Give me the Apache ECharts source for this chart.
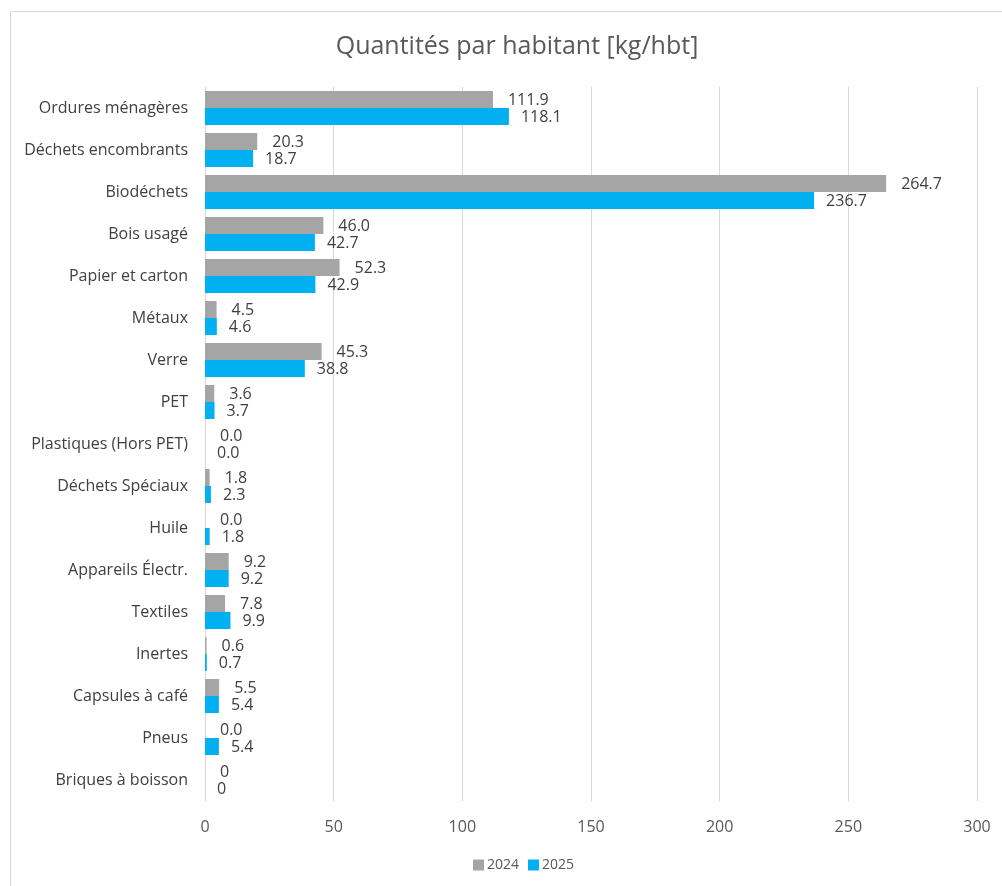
<!DOCTYPE html>
<html>
<head>
<meta charset="utf-8">
<script src="https://cdn.jsdelivr.net/npm/echarts@6/dist/echarts.min.js"></script>
<style>
html,body{margin:0;padding:0;background:#fff;overflow:hidden;}
#frame{position:absolute;left:10px;top:11px;width:1010px;height:900px;border:1px solid #d9d9d9;box-sizing:border-box;}
#chart{position:absolute;left:0;top:0;width:1002px;height:886px;}
</style>
</head>
<body>
<div id="frame"></div>
<div id="chart"></div>
<script>
const categories = ['Ordures ménagères','Déchets encombrants','Biodéchets','Bois usagé','Papier et carton','Métaux','Verre','PET','Plastiques (Hors PET)','Déchets Spéciaux','Huile','Appareils Électr.','Textiles','Inertes','Capsules à café','Pneus','Briques à boisson'];
const values2024 = [111.9,20.3,264.7,46.0,52.3,4.5,45.3,3.6,0.0,1.8,0.0,9.2,7.8,0.6,5.5,0.0,0];
const values2025 = [118.1,18.7,236.7,42.7,42.9,4.6,38.8,3.7,0.0,2.3,1.8,9.2,9.9,0.7,5.4,5.4,0];
const wholeNumberCategories = ['Briques à boisson'];
const xTicks = [0,50,100,150,200,250,300];

const FONT = 'Open Sans';
function fmt(p){
  return wholeNumberCategories.indexOf(p.name) >= 0 ? String(Math.round(p.value)) : Number(p.value).toFixed(1);
}
const chart = echarts.init(document.getElementById('chart'));
chart.setOption({
  animation:false,
  title:{text:'Quantités par habitant [kg/hbt]',left:512,textAlign:'center',top:29,
    textStyle:{fontFamily:FONT,fontSize:25,fontWeight:'normal',color:'#595959'}},
  legend:{bottom:9,left:468,itemWidth:11,itemHeight:11,itemGap:9,icon:'rect',
    textStyle:{fontFamily:FONT,fontSize:14,color:'#595959',padding:[0,0,0,-2]}},
  grid:{left:205,right:25,top:87,bottom:85,containLabel:false},
  xAxis:{type:'value',min:xTicks[0],max:xTicks[xTicks.length-1],interval:50,
    axisLine:{show:false},axisTick:{show:false},
    splitLine:{lineStyle:{color:'#d9d9d9'}},
    axisLabel:{fontFamily:FONT,fontSize:16,color:'#595959',margin:18}},
  yAxis:{type:'category',inverse:true,data:categories,
    axisLine:{show:false},axisTick:{show:false},
    axisLabel:{fontFamily:FONT,fontSize:16,color:'#404040',margin:17}},
  series:[
    {name:'2024',type:'bar',data:values2024,barGap:'0%',barCategoryGap:'19%',
     itemStyle:{color:'#A5A5A5'},
     label:{show:true,position:'right',distance:15,offset:[0,1],formatter:fmt,fontFamily:FONT,fontSize:16,color:'#404040'}},
    {name:'2025',type:'bar',data:values2025,barGap:'0%',barCategoryGap:'19%',
     itemStyle:{color:'#00B0F0'},
     label:{show:true,position:'right',distance:12,offset:[0,1],formatter:fmt,fontFamily:FONT,fontSize:16,color:'#404040'}}
  ]
});
</script>
</body>
</html>
